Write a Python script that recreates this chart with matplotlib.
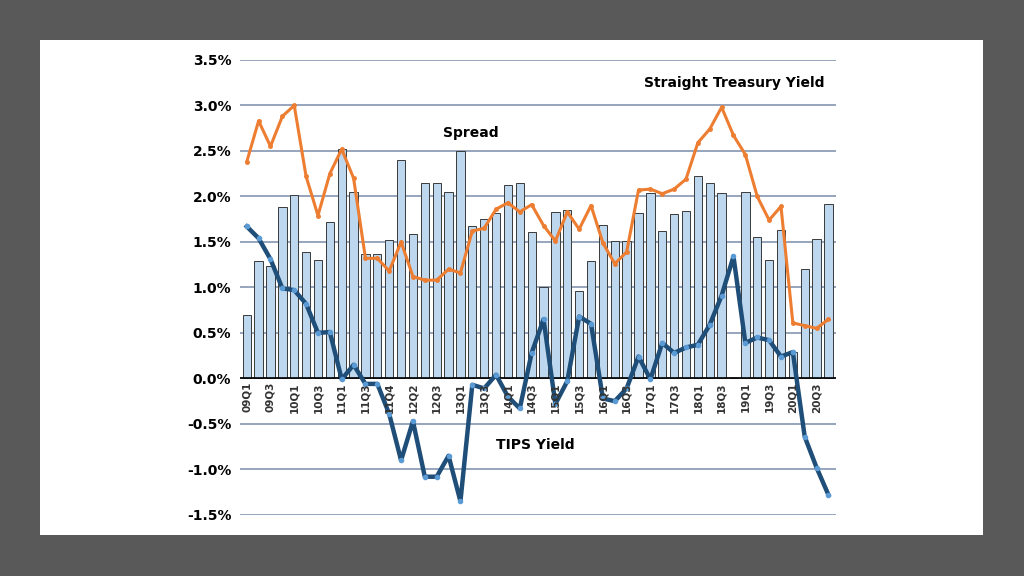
import numpy as np
import matplotlib.pyplot as plt
from matplotlib.patches import Rectangle

labels = ["09Q1", "09Q3", "10Q1", "10Q3", "11Q1", "11Q3", "11Q4", "12Q2", "12Q3", "13Q1",
          "13Q3", "14Q1", "14Q3", "15Q1", "15Q3", "16Q1", "16Q3", "17Q1", "17Q3", "18Q1",
          "18Q3", "19Q1", "19Q3", "20Q1", "20Q3"]

spread = [0.70, 1.29, 1.24, 1.88, 2.02, 1.39, 1.30, 1.72, 2.52, 2.05,
          1.37, 1.37, 1.52, 2.40, 1.59, 2.15, 2.15, 2.05, 2.50, 1.68,
          1.75, 1.82, 2.13, 2.15, 1.61, 1.00, 1.83, 1.85, 0.96, 1.29,
          1.69, 1.51, 1.51, 1.82, 2.04, 1.62, 1.81, 1.84, 2.22, 2.15,
          2.04, 0.00, 2.05, 1.55, 1.30, 1.63, 0.29, 1.20, 1.53, 1.92]

treasury = [2.38, 2.83, 2.55, 2.88, 3.00, 2.22, 1.79, 2.25, 2.52, 2.20,
            1.32, 1.32, 1.18, 1.50, 1.12, 1.08, 1.08, 1.20, 1.16, 1.62,
            1.65, 1.86, 1.93, 1.83, 1.91, 1.68, 1.51, 1.83, 1.64, 1.90,
            1.49, 1.26, 1.39, 2.07, 2.08, 2.03, 2.08, 2.19, 2.59, 2.74,
            2.98, 2.67, 2.46, 2.00, 1.74, 1.89, 0.61, 0.58, 0.55, 0.65]

tips = [1.67, 1.54, 1.31, 0.99, 0.97, 0.82, 0.50, 0.51, -0.01, 0.15,
        -0.06, -0.06, -0.39, -0.90, -0.47, -1.08, -1.08, -0.85, -1.35, -0.07,
        -0.11, 0.04, -0.20, -0.33, 0.28, 0.65, -0.28, -0.03, 0.68, 0.60,
        -0.22, -0.25, -0.11, 0.24, -0.01, 0.39, 0.28, 0.34, 0.37, 0.59,
        0.91, 1.34, 0.39, 0.45, 0.42, 0.24, 0.29, -0.64, -0.98, -1.28]

x = np.arange(len(spread))

fig = plt.figure(figsize=(10.24, 5.76), dpi=100)
fig.patch.set_facecolor("#595959")
fig.add_artist(Rectangle((40 / 1024, 1 - 535 / 576), 943 / 1024, 495 / 576,
                         transform=fig.transFigure, facecolor="white", edgecolor="none", zorder=0))

ax = fig.add_axes([0.234, 0.106, 0.582, 0.79])
ax.set_facecolor("none")
ax.bar(x, spread, width=0.7, color="#BDD7EE", edgecolor="#3a3a3a", linewidth=0.7, zorder=2)
ax.plot(x, treasury, color="#ED7D31", lw=2.2, marker="o", ms=2.5,
        mfc="#ED7D31", mec="#ED7D31", zorder=3)
ax.plot(x, tips, color="#1F4E79", lw=3.2, marker="o", ms=3,
        mfc="#5B9BD5", mec="#5B9BD5", zorder=4)

ax.set_ylim(-1.5, 3.5)
ax.set_xlim(-0.6, len(x) - 0.4)
ax.set_yticks(np.arange(-1.5, 3.51, 0.5))
ax.set_yticklabels([f"{v:.1f}%" for v in np.arange(-1.5, 3.51, 0.5)],
                   fontsize=10, fontweight="bold")
ax.yaxis.grid(True, color="#8496B0", lw=1.2, zorder=1)
ax.set_axisbelow(True)
ax.axhline(0, color="black", lw=1.2, zorder=2.5)
ax.set_xticks([])
ax.tick_params(axis="y", length=0, pad=6)
for s in ax.spines.values():
    s.set_visible(False)

for i, lab in enumerate(labels):
    ax.text(2 * i, -0.04, lab, rotation=90, ha="center", va="top",
            fontsize=7.5, fontweight="bold", color="#333333", zorder=5)

ax.text(16.5, 2.65, "Spread", fontsize=10, fontweight="bold")
ax.text(21, -0.78, "TIPS Yield", fontsize=10, fontweight="bold")
ax.text(33.5, 3.2, "Straight Treasury Yield", fontsize=10, fontweight="bold")

fig.savefig("out.png", dpi=100, facecolor=fig.get_facecolor())
